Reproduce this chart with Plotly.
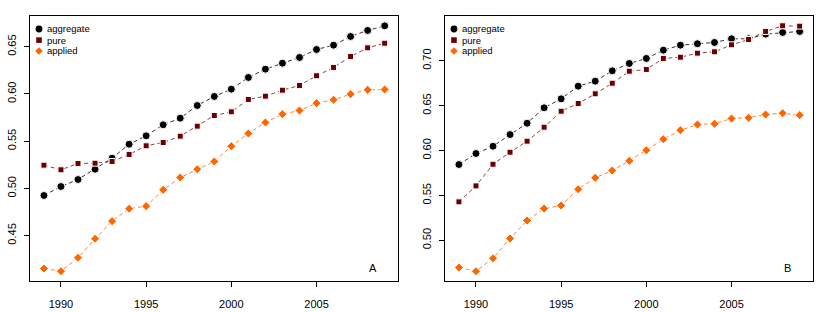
import plotly.graph_objects as go

years = list(range(1989, 2010))

# Panel A
agg_A = [0.4925, 0.5020, 0.5094, 0.5203, 0.5320, 0.5468, 0.5557, 0.5674, 0.5744, 0.5878,
         0.5974, 0.6051, 0.6175, 0.6263, 0.6326, 0.6387, 0.6471, 0.6517, 0.6609, 0.6673, 0.6722]
pure_A = [0.5246, 0.5197, 0.5264, 0.5267, 0.5285, 0.5359, 0.5451, 0.5486, 0.5553, 0.5659,
          0.5772, 0.5811, 0.5942, 0.5977, 0.6040, 0.6090, 0.6193, 0.6281, 0.6397, 0.6489, 0.6538]
appl_A = [0.4151, 0.4123, 0.4265, 0.4466, 0.4653, 0.4784, 0.4812, 0.4985, 0.5115, 0.5203,
          0.5285, 0.5447, 0.5582, 0.5698, 0.5786, 0.5825, 0.5903, 0.5939, 0.5998, 0.6044, 0.6048]

# Panel B
agg_B = [0.5844, 0.5967, 0.6048, 0.6178, 0.6304, 0.6476, 0.6576, 0.6717, 0.6773, 0.6888,
         0.6970, 0.7026, 0.7118, 0.7174, 0.7190, 0.7204, 0.7245, 0.7245, 0.7297, 0.7316, 0.7327]
pure_B = [0.5428, 0.5606, 0.5847, 0.5981, 0.6104, 0.6260, 0.6438, 0.6524, 0.6632, 0.6750,
          0.6884, 0.6903, 0.7026, 0.7040, 0.7085, 0.7100, 0.7178, 0.7237, 0.7327, 0.7390, 0.7386]
appl_B = [0.4696, 0.4655, 0.4799, 0.5019, 0.5220, 0.5353, 0.5387, 0.5569, 0.5696, 0.5777,
          0.5885, 0.6003, 0.6126, 0.6226, 0.6290, 0.6298, 0.6357, 0.6365, 0.6401, 0.6416, 0.6394]

series_names = ["aggregate", "pure", "applied"]
x_ticks = [1990, 1995, 2000, 2005]
y_ticks_A = [0.45, 0.50, 0.55, 0.60, 0.65]
y_ticks_B = [0.50, 0.55, 0.60, 0.65, 0.70]
panel_labels = ["A", "B"]

colors = ["#000000", "#6b0000", "#ff6600"]
line_colors = ["rgba(0,0,0,0.8)", "rgba(107,0,0,0.75)", "rgba(255,102,0,0.8)"]
symbols = ["circle", "square", "diamond"]
sizes = [8, 6, 7]

W, H = 830, 312
xdomA = [30.3 / W, 398.3 / W]
xdomB = [445.3 / W, 813.3 / W]

fig = go.Figure()

panels = [
    ("x", "y", [agg_A, pure_A, appl_A]),
    ("x2", "y2", [agg_B, pure_B, appl_B]),
]
for xa, ya, data in panels:
    for i, vals in enumerate(data):
        fig.add_trace(go.Scatter(
            x=years, y=vals, xaxis=xa, yaxis=ya, mode="lines+markers", name=series_names[i],
            line=dict(color=line_colors[i], width=1, dash="4px,3px"),
            marker=dict(color=colors[i], symbol=symbols[i], size=sizes[i],
                        line=dict(color="white", width=1)),
            showlegend=False, hoverinfo="skip"))

font = "Liberation Sans, Arial, sans-serif"
ax_common = dict(showline=True, linecolor="black", linewidth=1, mirror=True,
                 ticks="outside", ticklen=5, tickcolor="black", showgrid=False,
                 zeroline=False, automargin=False,
                 tickfont=dict(family=font, size=11, color="black"))

fig.update_layout(
    width=W, height=H, plot_bgcolor="white", paper_bgcolor="white",
    margin=dict(l=0, r=0, t=16, b=31),
    showlegend=False,
    xaxis=dict(domain=xdomA, range=[1988.2, 2009.8], tickvals=x_ticks,
               ticklabelstandoff=8, anchor="y", **ax_common),
    yaxis=dict(domain=[0, 1], range=[0.4019, 0.6826], tickvals=y_ticks_A,
               ticktext=[f"{v:.2f}" for v in y_ticks_A], tickangle=-90,
               ticklabelstandoff=4, anchor="x", **ax_common),
    xaxis2=dict(domain=xdomB, range=[1988.2, 2009.8], tickvals=x_ticks,
                ticklabelstandoff=8, anchor="y2", **ax_common),
    yaxis2=dict(domain=[0, 1], range=[0.4546, 0.7499], tickvals=y_ticks_B,
                ticktext=[f"{v:.2f}" for v in y_ticks_B], tickangle=-90,
                ticklabelstandoff=4, anchor="x2", **ax_common),
)

# legend drawn inside each panel (symbols as pixel-sized shapes, names as text)
leg_sym_x = 0.0236
leg_txt_x = 0.040
leg_rows = [0.951, 0.909, 0.868]
for xr, yr in [("x domain", "y domain"), ("x2 domain", "y2 domain")]:
    for i, name in enumerate(series_names):
        common = dict(xref=xr, yref=yr, xsizemode="pixel", ysizemode="pixel",
                      xanchor=leg_sym_x, yanchor=leg_rows[i],
                      fillcolor=colors[i], line=dict(width=0))
        if symbols[i] == "circle":
            fig.add_shape(type="circle", x0=-3.4, x1=3.4, y0=-3.4, y1=3.4, **common)
        elif symbols[i] == "square":
            fig.add_shape(type="rect", x0=-2.8, x1=2.8, y0=-2.8, y1=2.8, **common)
        else:
            fig.add_shape(type="path", path="M -3.8 0 L 0 -3.8 L 3.8 0 L 0 3.8 Z", **common)
        fig.add_annotation(text=name, x=leg_txt_x, y=leg_rows[i], xref=xr, yref=yr,
                           showarrow=False, xanchor="left", yanchor="middle",
                           font=dict(family=font, size=9.5, color="black"))

for lab, xr, yr in [(panel_labels[0], "x domain", "y domain"), (panel_labels[1], "x2 domain", "y2 domain")]:
    fig.add_annotation(text=lab, x=0.930, y=0.049, xref=xr, yref=yr, showarrow=False,
                       xanchor="center", yanchor="middle",
                       font=dict(family=font, size=11, color="black"))

fig.write_html("out.html", config={"displayModeBar": False},
               post_script="document.body.style.margin='0px';")
